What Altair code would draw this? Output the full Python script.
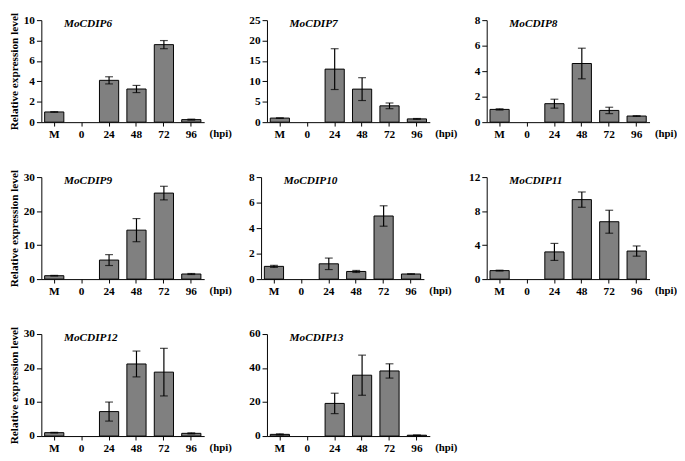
import altair as alt
import pandas as pd

categories = ["M", "0", "24", "48", "72", "96"]
genes = ["MoCDIP6", "MoCDIP7", "MoCDIP8", "MoCDIP9", "MoCDIP10", "MoCDIP11", "MoCDIP12", "MoCDIP13"]

means = {
    "MoCDIP6": [1.0, 0, 4.1, 3.25, 7.6, 0.25],
    "MoCDIP7": [1.0, 0, 13.0, 8.1, 4.0, 0.8],
    "MoCDIP8": [1.0, 0, 1.45, 4.6, 0.92, 0.48],
    "MoCDIP9": [1.0, 0, 5.6, 14.4, 25.3, 1.5],
    "MoCDIP10": [1.0, 0, 1.2, 0.6, 4.95, 0.4],
    "MoCDIP11": [1.0, 0, 3.2, 9.35, 6.75, 3.3],
    "MoCDIP12": [1.0, 0, 7.2, 21.2, 18.8, 0.8],
    "MoCDIP13": [1.0, 0, 19.2, 35.8, 38.3, 0.5],
}
sds = {
    "MoCDIP6": [0.02, 0, 0.35, 0.35, 0.4, 0.05],
    "MoCDIP7": [0.05, 0, 5.0, 2.8, 0.7, 0.1],
    "MoCDIP8": [0.05, 0, 0.35, 1.2, 0.25, 0.03],
    "MoCDIP9": [0.1, 0, 1.6, 3.4, 2.0, 0.15],
    "MoCDIP10": [0.08, 0, 0.45, 0.08, 0.8, 0.02],
    "MoCDIP11": [0.05, 0, 1.0, 0.9, 1.35, 0.6],
    "MoCDIP12": [0.1, 0, 2.8, 3.8, 7.0, 0.15],
    "MoCDIP13": [0.3, 0, 6.0, 11.8, 4.2, 0.1],
}
y_max = {"MoCDIP6": 10, "MoCDIP7": 25, "MoCDIP8": 8, "MoCDIP9": 30,
         "MoCDIP10": 8, "MoCDIP11": 12, "MoCDIP12": 30, "MoCDIP13": 60}
y_step = {"MoCDIP6": 2, "MoCDIP7": 5, "MoCDIP8": 2, "MoCDIP9": 10,
          "MoCDIP10": 2, "MoCDIP11": 4, "MoCDIP12": 10, "MoCDIP13": 20}

W = 166
H = 104
FONT = "Liberation Serif"


def panel(gene, show_ytitle):
    m = means[gene]
    s = sds[gene]
    df = pd.DataFrame({
        "cat": categories,
        "mean": m,
        "lo": [a - b for a, b in zip(m, s)],
        "hi": [a + b for a, b in zip(m, s)],
        "sd": s,
    })
    ymax = y_max[gene]
    step = y_step[gene]
    ticks = list(range(0, ymax + 1, step))
    xscale = alt.Scale(domain=categories, paddingInner=0.3, paddingOuter=0.12)
    yscale = alt.Scale(domain=[0, ymax], nice=False)

    yaxis_kwargs = dict(values=ticks, grid=False, tickSize=5, labelPadding=2,
                        labelFont=FONT, labelFontWeight="bold", labelFontSize=11.5,
                        labelColor="black", domainColor="black", tickColor="black")
    if show_ytitle:
        yaxis_kwargs.update(title="Relative expression level", titleFont=FONT,
                            titleFontWeight="bold", titleFontSize=11.5, titleColor="black",
                            titlePadding=4)
    else:
        yaxis_kwargs.update(title=None)
    yaxis = alt.Axis(**yaxis_kwargs)

    xaxis = alt.Axis(title="(hpi)", titleX=W + 5, titleY=12, titleAlign="left",
                     titleBaseline="middle", titleFont=FONT, titleFontWeight="bold",
                     titleFontSize=11, titleColor="black",
                     labelAngle=0, tickSize=4, labelPadding=3, labelFont=FONT,
                     labelFontWeight="bold", labelFontSize=11.5, labelColor="black",
                     domainColor="black", tickColor="black", grid=False)

    xenc = alt.X("cat:N", sort=categories, scale=xscale, axis=xaxis)

    base = alt.Chart(df)
    bars = base.mark_bar(fill="#808080", stroke="black", strokeWidth=1).encode(
        x=xenc,
        y=alt.Y("mean:Q", scale=yscale, axis=yaxis),
        opacity=alt.condition("datum.mean > 0", alt.value(1), alt.value(0)),
    )
    err_base = base.transform_filter("datum.sd > 0")
    rule = err_base.mark_rule(color="black", strokeWidth=1.2).encode(
        x=xenc,
        y=alt.Y("lo:Q", scale=yscale, axis=yaxis),
        y2="hi:Q",
    )
    cap_lo = err_base.mark_tick(color="black", size=8, thickness=1.2).encode(
        x=xenc,
        y=alt.Y("lo:Q", scale=yscale, axis=yaxis),
    )
    cap_hi = err_base.mark_tick(color="black", size=8, thickness=1.2).encode(
        x=xenc,
        y=alt.Y("hi:Q", scale=yscale, axis=yaxis),
    )
    label = alt.Chart(pd.DataFrame({"g": [gene]})).mark_text(
        font=FONT, fontStyle="italic", fontWeight="bold", fontSize=11.5,
        align="left", baseline="middle", color="black",
    ).encode(text="g:N", x=alt.value(23), y=alt.value(4))

    return alt.layer(bars, rule, cap_lo, cap_hi, label).properties(width=W, height=H)


row1 = alt.hconcat(panel(genes[0], True), panel(genes[1], False), panel(genes[2], False), spacing=17)
row2 = alt.hconcat(panel(genes[3], True), panel(genes[4], False), panel(genes[5], False), spacing=17)
row3 = alt.hconcat(panel(genes[6], True), panel(genes[7], False), spacing=17)

chart = alt.vconcat(row1, row2, row3, spacing=29).properties(
    padding={"left": 0, "top": 0, "right": 0, "bottom": 0}
).configure(background="white").configure_view(stroke=None)

chart.save("out.html", embed_options={"renderer": "svg", "actions": False})
